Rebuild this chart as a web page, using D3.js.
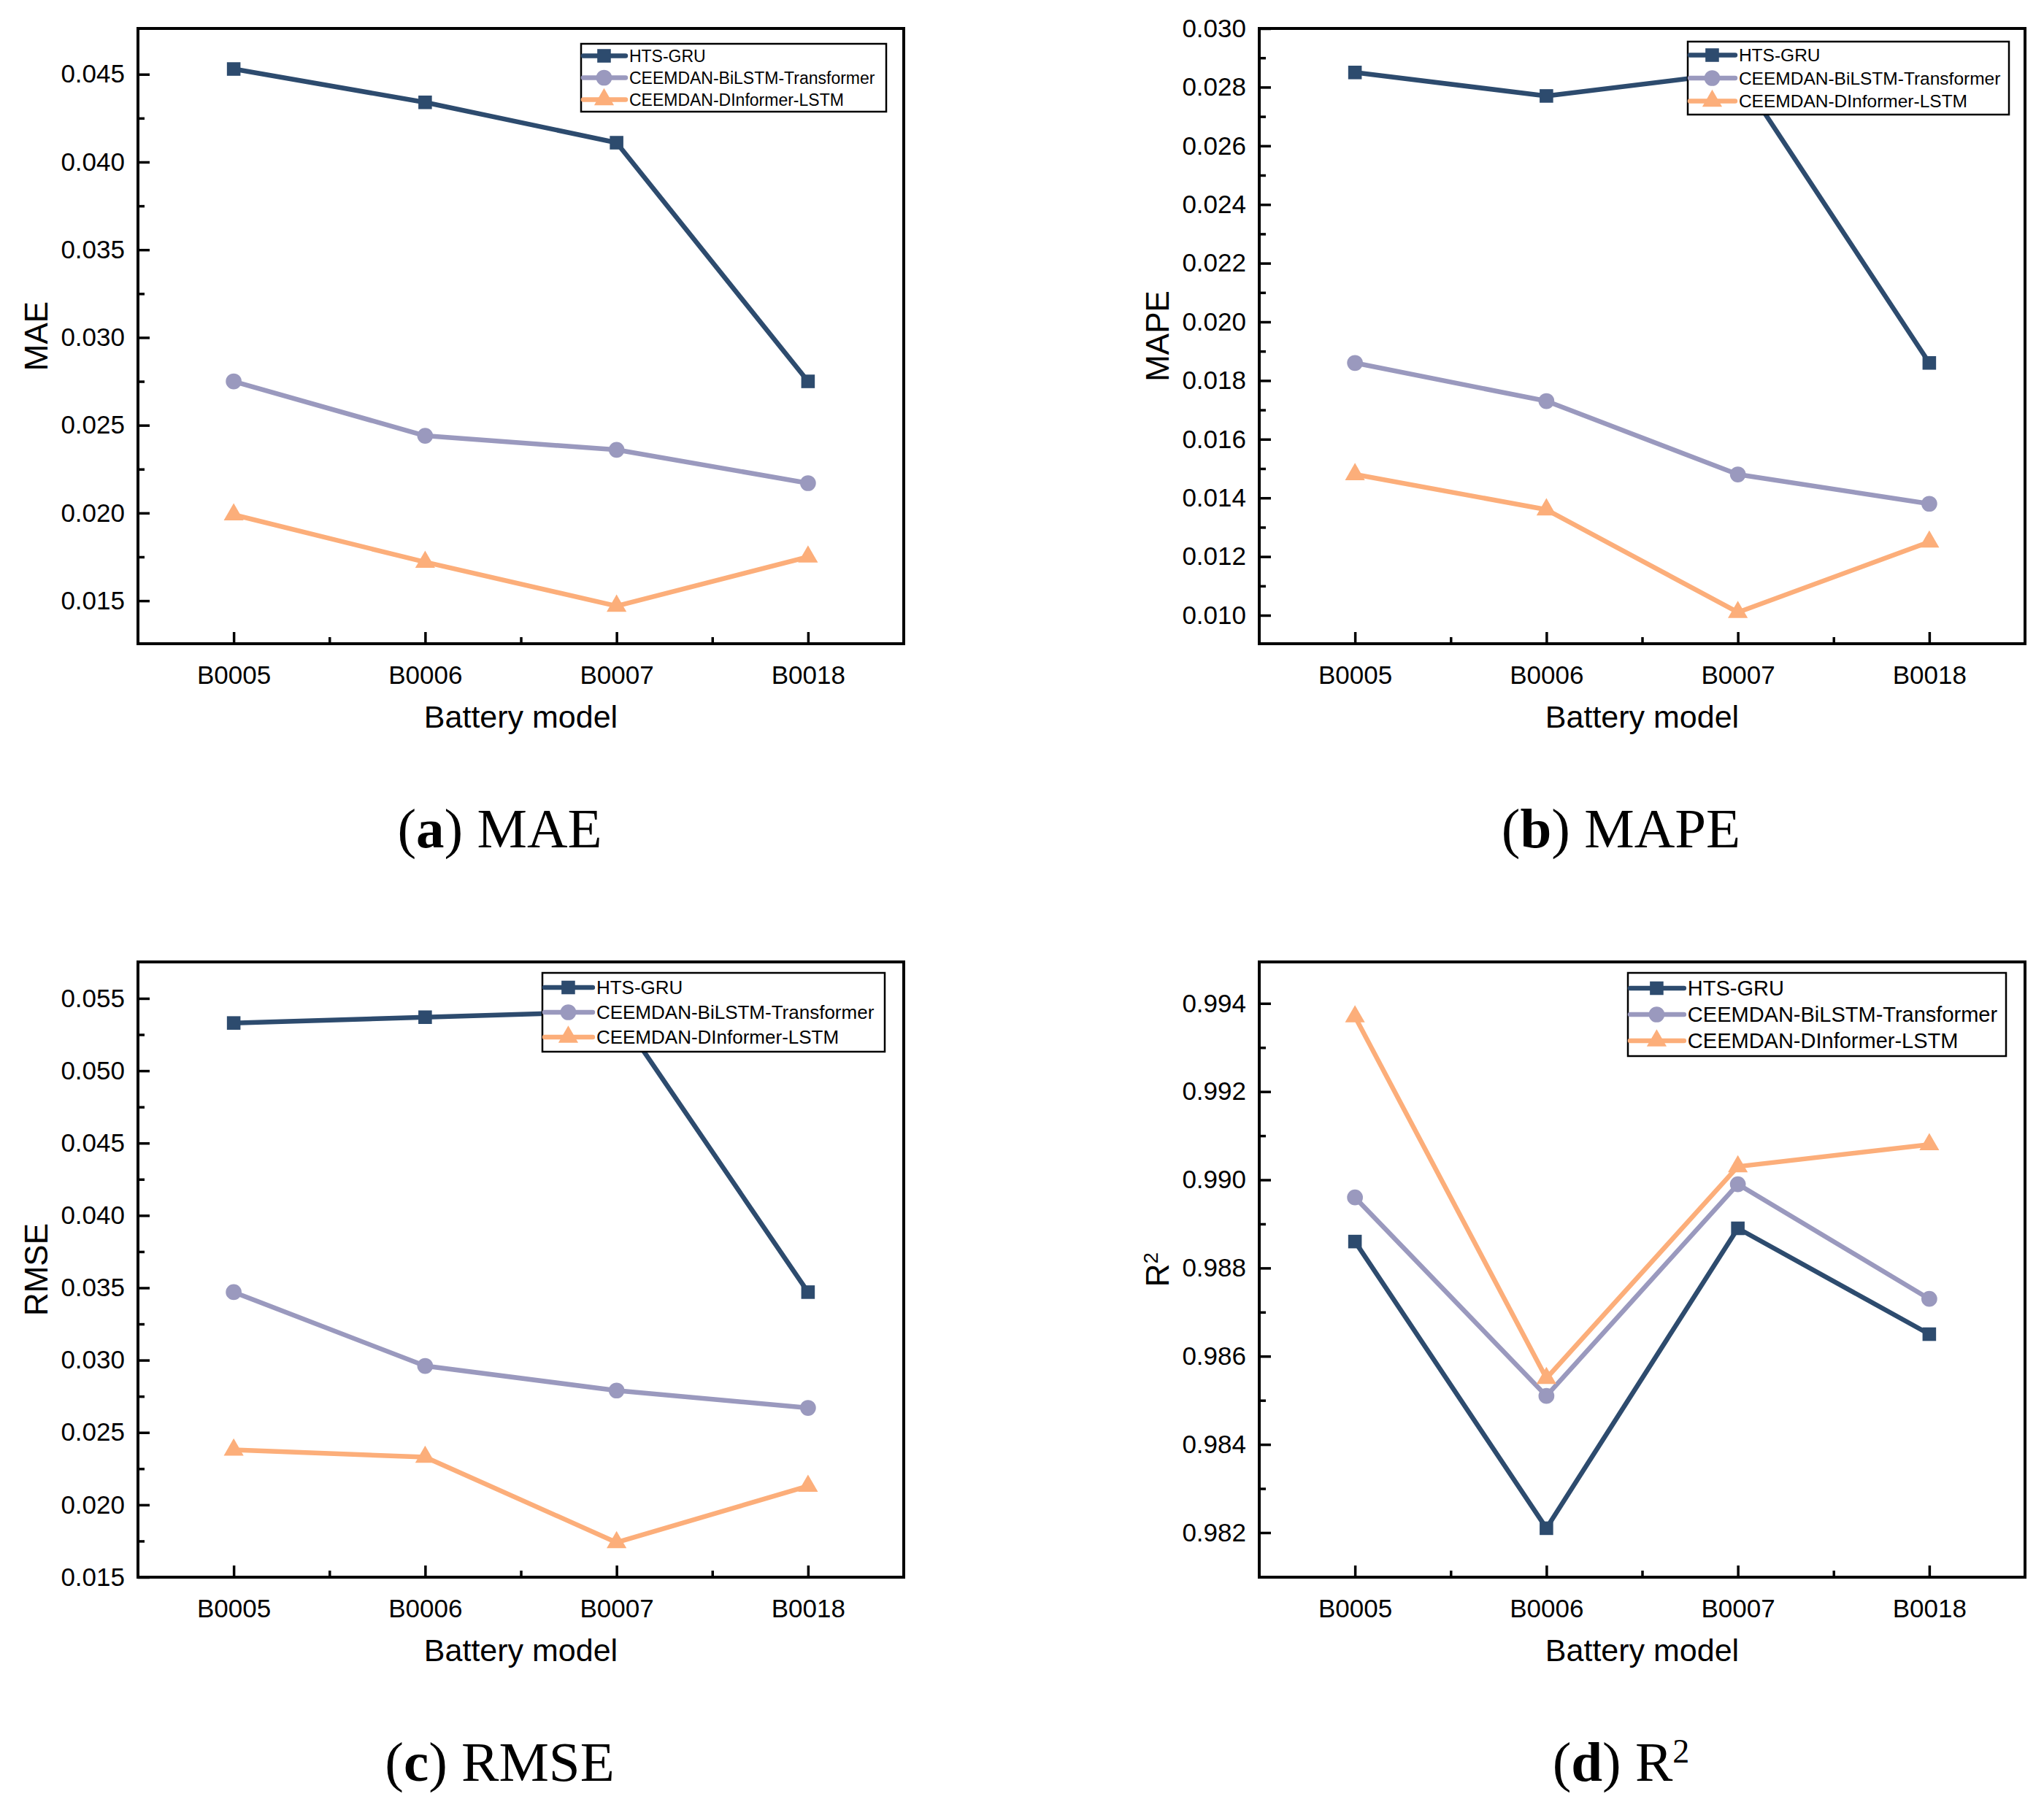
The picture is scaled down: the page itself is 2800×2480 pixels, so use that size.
<!DOCTYPE html>
<html>
<head>
<meta charset="utf-8">
<script src="https://cdn.jsdelivr.net/npm/d3@7"></script>
<style>
    body { margin: 0; background: #ffffff; }
    svg { display: block; font-family: 'Liberation Sans', Arial, sans-serif; }
</style>
</head>
<body>
<svg></svg>
<script>
let categories = ['B0005', 'B0006', 'B0007', 'B0018']
let seriesNames = ['HTS-GRU', 'CEEMDAN-BiLSTM-Transformer', 'CEEMDAN-DInformer-LSTM']

// values
let maeHTS = [0.0453, 0.0434, 0.0411, 0.0275]
let maeBiLSTM = [0.0275, 0.0244, 0.0236, 0.0217]
let maeDInformer = [0.0199, 0.0172, 0.0147, 0.0175]

let mapeHTS = [0.0285, 0.0277, 0.0285, 0.0186]
let mapeBiLSTM = [0.0186, 0.0173, 0.0148, 0.0138]
let mapeDInformer = [0.0148, 0.0136, 0.0101, 0.0125]

let rmseHTS = [0.0533, 0.0537, 0.0541, 0.0347]
let rmseBiLSTM = [0.0347, 0.0296, 0.0279, 0.0267]
let rmseDInformer = [0.0238, 0.0233, 0.0174, 0.0213]

let r2HTS = [0.9886, 0.9821, 0.9889, 0.9865]
let r2BiLSTM = [0.9896, 0.9851, 0.9899, 0.9873]
let r2DInformer = [0.9937, 0.9855, 0.9903, 0.9908]

// tick labels
let maeTicks = [0.015, 0.020, 0.025, 0.030, 0.035, 0.040, 0.045]
let mapeTicks = [0.010, 0.012, 0.014, 0.016, 0.018, 0.020, 0.022, 0.024, 0.026, 0.028, 0.030]
let rmseTicks = [0.015, 0.020, 0.025, 0.030, 0.035, 0.040, 0.045, 0.050, 0.055]
let r2Ticks = [0.982, 0.984, 0.986, 0.988, 0.990, 0.992, 0.994]

let colors = ['#2d4b6e', '#9a99be', '#fcae7a']
let symbols = [d3.symbolSquare, d3.symbolCircle, d3.symbolTriangle]
let symbolSizes = [345, 370, 320]

let width = 2800
let height = 2480
let plotW = 1049
let plotH = 843

let panels = [
    { letter: 'a', name: 'MAE', label: 'MAE', left: 189, top: 39,
      series: [maeHTS, maeBiLSTM, maeDInformer], domain: [0.01255, 0.04761], ticks: maeTicks,
      legend: { x: 796, y: 60, w: 418, h: 93, font: 23, gap: 30 } },
    { letter: 'b', name: 'MAPE', label: 'MAPE', left: 1725, top: 39,
      series: [mapeHTS, mapeBiLSTM, mapeDInformer], domain: [0.00903, 0.030], ticks: mapeTicks,
      legend: { x: 2312, y: 57, w: 440, h: 100, font: 24.5, gap: 31.5 } },
    { letter: 'c', name: 'RMSE', label: 'RMSE', left: 189, top: 1318,
      series: [rmseHTS, rmseBiLSTM, rmseDInformer], domain: [0.015, 0.05752], ticks: rmseTicks,
      legend: { x: 743, y: 1333, w: 469, h: 108, font: 26, gap: 34 } },
    { letter: 'd', name: 'R', label: 'R', sup: '2', left: 1725, top: 1318,
      series: [r2HTS, r2BiLSTM, r2DInformer], domain: [0.98099, 0.99494], ticks: r2Ticks,
      legend: { x: 2230, y: 1333, w: 518, h: 114, font: 29, gap: 36 } }
]

let svg = d3.select('svg')
    .attr('width', width)
    .attr('height', height)

svg.append('rect')
    .attr('width', width)
    .attr('height', height)
    .attr('fill', '#ffffff')

let drawPanel = (p) => {
    let left = p.left
    let right = p.left + plotW
    let top = p.top
    let bottom = p.top + plotH

    let xScale = d3.scalePoint()
        .domain(categories)
        .range([left, right])
        .padding(0.5)

    // index scale only used for the minor ticks between categories
    let xIndex = d3.scaleLinear()
        .domain([-0.5, categories.length - 0.5])
        .range([left, right])

    let yScale = d3.scaleLinear()
        .domain(p.domain)
        .range([bottom, top])

    let g = svg.append('g').attr('class', 'panel-' + p.letter)

    // minor ticks
    let minorY = []
    for (let i = 0; i < p.ticks.length - 1; i++) {
        minorY.push((p.ticks[i] + p.ticks[i + 1]) / 2)
    }
    g.append('g')
        .attr('transform', 'translate(' + left + ', 0)')
        .call(d3.axisLeft(yScale).tickValues(minorY).tickSize(-9).tickFormat(''))

    g.append('g')
        .attr('transform', 'translate(0, ' + bottom + ')')
        .call(d3.axisBottom(xIndex).tickValues([0.5, 1.5, 2.5]).tickSize(-9).tickFormat(''))

    // major ticks
    let yAxis = d3.axisLeft(yScale)
        .tickValues(p.ticks)
        .tickSize(-16)
        .tickPadding(18)
        .tickFormat(d3.format('.3f'))

    g.append('g')
        .attr('class', 'y-axis')
        .attr('transform', 'translate(' + left + ', 0)')
        .call(yAxis)

    let xAxis = d3.axisBottom(xScale)
        .tickSize(-16)
        .tickPadding(30)

    g.append('g')
        .attr('class', 'x-axis')
        .attr('transform', 'translate(0, ' + bottom + ')')
        .call(xAxis)

    g.selectAll('.domain').remove()
    g.selectAll('.tick line')
        .attr('stroke', '#000')
        .attr('stroke-width', 3.5)
    g.selectAll('.tick text')
        .attr('fill', '#000')
        .style('font-size', '35px')
        .style('font-family', "'Liberation Sans', Arial, sans-serif")

    // frame
    g.append('rect')
        .attr('x', left)
        .attr('y', top)
        .attr('width', plotW)
        .attr('height', plotH)
        .attr('fill', 'none')
        .attr('stroke', '#000')
        .attr('stroke-width', 4)

    // series lines then markers
    let line = d3.line()
        .x((d, i) => xScale(categories[i]))
        .y((d) => yScale(d))

    p.series.forEach((values, s) => {
        g.append('path')
            .datum(values)
            .attr('d', line)
            .attr('fill', 'none')
            .attr('stroke', colors[s])
            .attr('stroke-width', 6.5)
            .attr('stroke-linejoin', 'round')

        g.selectAll('.pt-' + s)
            .data(values)
            .enter()
            .append('path')
            .attr('class', 'pt-' + s)
            .attr('d', d3.symbol().type(symbols[s]).size(symbolSizes[s]))
            .attr('transform', (d, i) => 'translate(' + xScale(categories[i]) + ', ' + yScale(d) + ')')
            .attr('fill', colors[s])
    })

    // legend
    let lg = p.legend
    let lineLen = lg.font * 2.65
    let legend = g.append('g')
        .attr('transform', 'translate(' + lg.x + ', ' + lg.y + ')')

    legend.append('rect')
        .attr('width', lg.w)
        .attr('height', lg.h)
        .attr('fill', '#ffffff')
        .attr('stroke', '#000')
        .attr('stroke-width', 2.5)

    seriesNames.forEach((name, s) => {
        let cy = lg.h / 2 + (s - 1) * lg.gap
        legend.append('line')
            .attr('x1', 3)
            .attr('x2', lineLen)
            .attr('y1', cy)
            .attr('y2', cy)
            .attr('stroke', colors[s])
            .attr('stroke-width', 6.5)
            .attr('stroke-linecap', 'round')
        legend.append('path')
            .attr('d', d3.symbol().type(symbols[s]).size(symbolSizes[s]))
            .attr('transform', 'translate(' + (lineLen / 2 + 1) + ', ' + cy + ')')
            .attr('fill', colors[s])
        legend.append('text')
            .attr('x', lineLen + 5)
            .attr('y', cy)
            .attr('dy', '0.36em')
            .style('font-size', lg.font + 'px')
            .text(name)
    })

    // axis titles
    g.append('text')
        .attr('x', (left + right) / 2)
        .attr('y', bottom + 115)
        .attr('text-anchor', 'middle')
        .style('font-size', '43px')
        .text('Battery model')

    let yTitle = g.append('text')
        .attr('transform', 'translate(' + (left - 124) + ', ' + ((top + bottom) / 2) + ') rotate(-90)')
        .attr('text-anchor', 'middle')
        .style('font-size', '44px')
        .text(p.label)
    if (p.sup) {
        yTitle.append('tspan')
            .attr('baseline-shift', 'super')
            .style('font-size', '28px')
            .text(p.sup)
    }

    // caption under the panel
    let caption = g.append('text')
        .attr('x', (left + right) / 2 - 29)
        .attr('y', bottom + 279)
        .attr('text-anchor', 'middle')
        .style('font-family', "'Liberation Serif', 'Times New Roman', serif")
        .style('font-size', '77px')
    caption.append('tspan').text('(')
    caption.append('tspan').style('font-weight', 'bold').text(p.letter)
    caption.append('tspan').text(') ' + p.name)
    if (p.sup) {
        caption.append('tspan')
            .attr('baseline-shift', 'super')
            .style('font-size', '46px')
            .text(p.sup)
    }
}

panels.forEach(drawPanel)
</script>
</body>
</html>
